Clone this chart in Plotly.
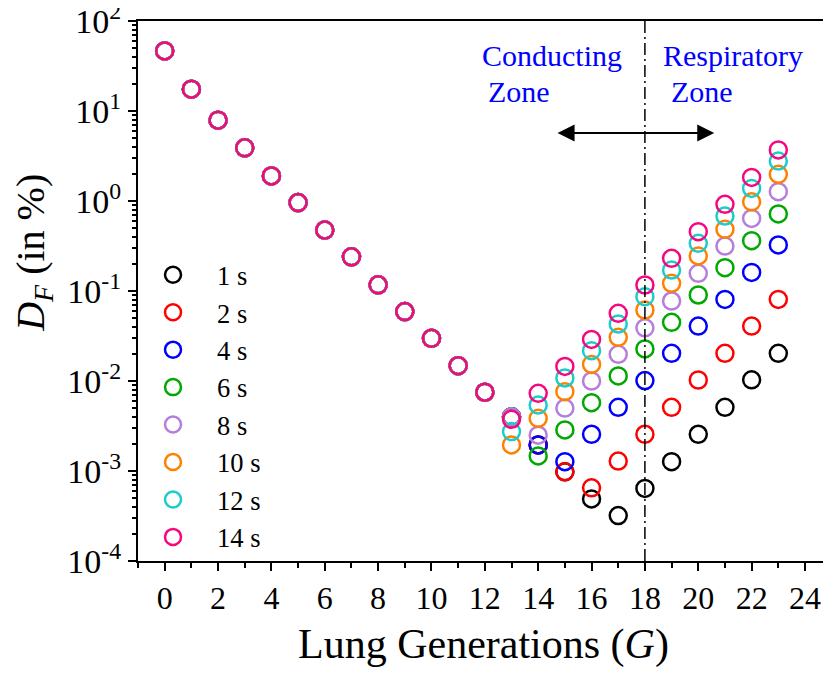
import plotly.graph_objects as go

G = list(range(24))
common = [46.5, 17.5, 7.9, 3.9, 1.9, 0.96, 0.476, 0.24, 0.117, 0.059, 0.0298, 0.0148, 0.0075]

labels = ["1 s", "2 s", "4 s", "6 s", "8 s", "10 s", "12 s", "14 s"]
colors = ["#000000", "#FF0000", "#0000FF", "#00A800", "#B57EDC", "#FF8000", "#1CCCCC", "#F5087F"]

tail_1s = [0.0040, 0.00195, 0.00098, 0.00049, 0.00032, 0.00064, 0.00127, 0.00256, 0.0051, 0.0103, 0.0203]
tail_2s = [0.0040, 0.00195, 0.00098, 0.00065, 0.00129, 0.00256, 0.0051, 0.01026, 0.0203, 0.0408, 0.0807]
tail_4s = [0.0040, 0.00195, 0.00127, 0.00256, 0.0051, 0.0101, 0.0203, 0.0408, 0.0807, 0.161, 0.325]
tail_6s = [0.0040, 0.00147, 0.00286, 0.00574, 0.0114, 0.0227, 0.0449, 0.0903, 0.1816, 0.362, 0.718]
tail_8s = [0.0040, 0.0025, 0.0050, 0.0100, 0.0198, 0.039, 0.0774, 0.157, 0.316, 0.641, 1.27]
tail_10s = [0.00195, 0.00385, 0.0076, 0.0153, 0.0306, 0.0615, 0.1216, 0.245, 0.484, 0.98, 1.98]
tail_12s = [0.00274, 0.0054, 0.0108, 0.0217, 0.043, 0.0865, 0.171, 0.339, 0.68, 1.38, 2.78]
tail_14s = [0.00375, 0.0073, 0.0145, 0.029, 0.0565, 0.1166, 0.2306, 0.456, 0.918, 1.83, 3.69]
tails = [tail_1s, tail_2s, tail_4s, tail_6s, tail_8s, tail_10s, tail_12s, tail_14s]

x_ticks = list(range(0, 25, 2))
y_ticks = [1e-4, 1e-3, 1e-2, 1e-1, 1e0, 1e1, 1e2]
y_ticktext = ["10<sup>-4</sup>", "10<sup>-3</sup>", "10<sup>-2</sup>", "10<sup>-1</sup>",
              "10<sup>0</sup>", "10<sup>1</sup>", "10<sup>2</sup>"]

FONT = "Liberation Serif, Times New Roman, serif"

fig = go.Figure()
for lab, col, tail in zip(labels, colors, tails):
    fig.add_trace(go.Scatter(
        x=G, y=common + tail, mode="markers", name=lab,
        marker=dict(symbol="circle-open", size=17, color=col, line=dict(width=2.5, color=col)),
    ))

fig.add_shape(type="line", xref="x", yref="y domain", x0=18, x1=18, y0=0, y1=1,
              line=dict(color="black", width=1.5, dash="12px,4px,2px,4px"))

fig.add_annotation(x=20.6, y=0.756, ax=14.67, ay=0.756, xref="x", yref="y", axref="x", ayref="y",
                   text="", showarrow=True, arrowside="end+start", arrowhead=2,
                   arrowsize=1.7, arrowwidth=2, arrowcolor="black")

blue_font = dict(family=FONT, size=30, color="#0000FF")
fig.add_annotation(x=11.8, y=1.622, xref="x", yref="y", text="Conducting", showarrow=False,
                   xanchor="left", yanchor="middle", font=blue_font)
fig.add_annotation(x=12.06, y=1.222, xref="x", yref="y", text="Zone", showarrow=False,
                   xanchor="left", yanchor="middle", font=blue_font)
fig.add_annotation(x=18.6, y=1.622, xref="x", yref="y", text="Respiratory", showarrow=False,
                   xanchor="left", yanchor="middle", font=blue_font)
fig.add_annotation(x=18.89, y=1.222, xref="x", yref="y", text="Zone", showarrow=False,
                   xanchor="left", yanchor="middle", font=blue_font)

fig.add_annotation(x=-0.151, y=0.57, xref="paper", yref="paper",
                   text="<i>D</i><sub><i>F</i></sub> (in %)", showarrow=False, textangle=-90,
                   xanchor="center", yanchor="middle", font=dict(family=FONT, size=40, color="black"))

fig.update_layout(
    width=823, height=671,
    margin=dict(l=130, r=2, t=13, b=118, autoexpand=False),
    paper_bgcolor="white", plot_bgcolor="white",
    font=dict(family=FONT, color="black"),
    showlegend=True,
    legend=dict(x=-0.013, y=0.574, xanchor="left", yanchor="top", bgcolor="rgba(0,0,0,0)",
                font=dict(family=FONT, size=26.5, color="black"), itemwidth=78),
    xaxis=dict(range=[-1, 24.9], tickmode="array", tickvals=x_ticks, automargin=False,
               ticks="outside", ticklen=8, tickwidth=2, tickcolor="black",
               minor=dict(ticks="outside", ticklen=5, tickwidth=1.5, tickcolor="black", dtick=1, tick0=0),
               showline=True, linewidth=2, linecolor="black", mirror=True,
               showgrid=False, zeroline=False,
               tickfont=dict(family=FONT, size=32, color="black"),
               title=dict(text="Lung Generations (<i>G</i>)", font=dict(family=FONT, size=42, color="black"),
                          standoff=13)),
    yaxis=dict(type="log", range=[-4, 2], tickmode="array", tickvals=y_ticks, ticktext=y_ticktext,
               automargin=False, ticklabeloverflow="allow",
               ticks="outside", ticklen=8, tickwidth=2, tickcolor="black",
               minor=dict(ticks="outside", ticklen=4, tickwidth=1.5, tickcolor="black", dtick="D1"),
               showline=True, linewidth=2, linecolor="black", mirror=True,
               showgrid=False, zeroline=False,
               tickfont=dict(family=FONT, size=34, color="black")),
)

fig.write_html("out.html")
